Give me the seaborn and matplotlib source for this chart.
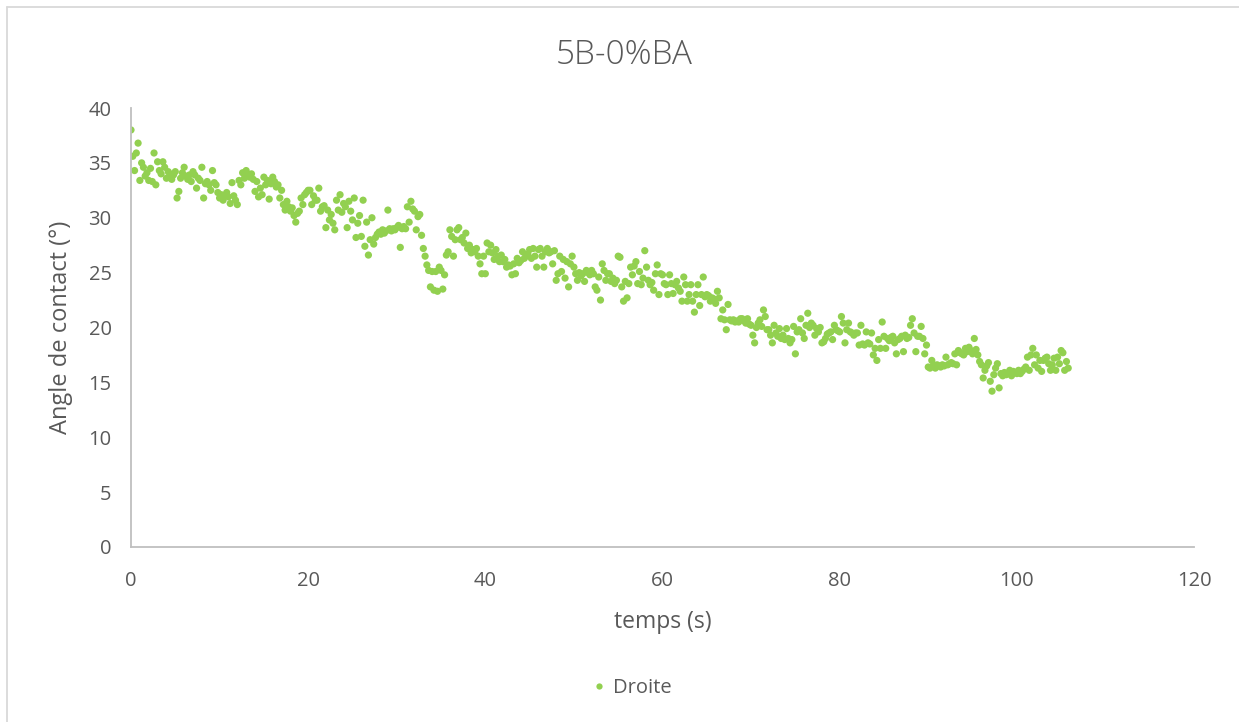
import numpy as np
import pandas as pd
import matplotlib
matplotlib.use("Agg")
import matplotlib.pyplot as plt
from matplotlib.lines import Line2D
import seaborn as sns

# ---- data (5 samples per second, step 0.2 s) ----
title = "5B-0%BA"
series_name = "Droite"
x_label = "temps (s)"
y_label = "Angle de contact (°)"
x_ticks = [0, 20, 40, 60, 80, 100, 120]
y_ticks = [0, 5, 10, 15, 20, 25, 30, 35, 40]
time_step = 0.2

angle_rows = [
    [38.0, 35.6, 34.3, 35.9, 36.8],  # 0 s
    [33.4, 35.0, 34.6, 33.8, 34.1],
    [33.4, 34.5, 33.3, 35.9, 33.0],
    [35.1, 34.3, 34.0, 35.1, 34.6],
    [33.6, 34.2, 34.0, 33.5, 33.9],
    [34.2, 31.8, 32.4, 33.6, 34.1],
    [34.6, 33.8, 33.5, 33.9, 33.3],
    [34.2, 33.9, 32.7, 33.6, 33.4],
    [34.6, 31.8, 33.1, 33.3, 33.0],
    [32.5, 34.3, 33.2, 33.0, 32.3],
    [31.8, 32.1, 31.6, 32.0, 32.3],  # 10 s
    [31.9, 31.3, 33.2, 32.0, 31.6],
    [31.2, 33.4, 33.0, 34.1, 33.6],
    [34.3, 33.9, 33.7, 34.0, 33.5],
    [32.4, 33.3, 31.9, 32.7, 32.1],
    [33.7, 33.0, 33.4, 31.7, 33.1],
    [33.7, 33.3, 32.8, 33.0, 31.8],
    [32.5, 31.2, 30.7, 31.5, 31.0],
    [30.6, 30.9, 30.2, 29.6, 30.4],
    [30.6, 31.8, 31.2, 32.1, 32.3],
    [32.5, 32.5, 31.2, 32.0, 31.6],  # 20 s
    [31.6, 32.7, 30.6, 31.0, 31.1],
    [29.1, 30.7, 29.8, 30.3, 29.5],
    [28.9, 31.6, 30.7, 32.1, 30.5],
    [31.3, 31.0, 29.1, 31.5, 30.6],
    [29.8, 31.8, 28.2, 29.5, 30.2],
    [28.3, 31.6, 27.4, 29.6, 26.6],
    [28.0, 30.0, 27.6, 28.2, 28.5],
    [28.7, 28.5, 28.9, 28.6, 28.8],
    [30.7, 29.0, 28.8, 29.0, 28.9],
    [29.1, 29.3, 27.3, 29.0, 29.2],  # 30 s
    [29.0, 31.0, 29.6, 31.5, 30.8],
    [30.6, 28.9, 30.1, 30.3, 28.4],
    [27.2, 26.5, 25.7, 25.2, 23.7],
    [25.1, 23.4, 25.1, 23.3, 25.5],
    [25.2, 23.5, 24.8, 26.6, 26.9],
    [28.9, 28.3, 26.5, 28.0, 28.9],
    [29.1, 28.0, 28.2, 27.7, 28.6],
    [27.2, 27.5, 26.8, 27.1, 26.9],
    [27.2, 26.5, 25.8, 24.9, 26.5],
    [24.9, 27.7, 26.9, 27.5, 26.8],  # 40 s
    [26.2, 27.1, 26.5, 26.0, 26.6],
    [26.0, 26.2, 25.5, 25.7, 25.6],
    [24.8, 25.8, 24.9, 26.3, 25.9],
    [26.1, 26.9, 26.3, 26.5, 26.7],
    [27.1, 26.3, 27.2, 26.5, 25.5],
    [27.1, 27.2, 26.5, 25.5, 26.9],
    [27.2, 26.8, 26.9, 25.8, 27.0],
    [24.3, 24.9, 26.5, 25.1, 26.2],
    [24.5, 26.0, 23.7, 25.8, 26.5],
    [25.5, 24.9, 24.3, 25.0, 24.7],  # 50 s
    [24.9, 24.2, 25.2, 25.0, 24.8],
    [25.2, 24.9, 23.7, 23.4, 24.6],
    [22.5, 25.8, 25.2, 24.3, 24.9],
    [24.9, 24.2, 24.5, 24.0, 24.3],
    [26.5, 26.4, 23.7, 22.4, 24.2],
    [22.7, 24.0, 25.5, 24.8, 25.6],
    [26.0, 24.0, 25.1, 23.9, 24.5],
    [27.0, 25.5, 24.3, 23.9, 24.1],
    [23.4, 24.9, 25.7, 23.0, 24.9],
    [24.8, 24.0, 23.9, 23.0, 24.8],  # 60 s
    [24.0, 23.1, 23.9, 24.2, 23.6],
    [23.3, 22.4, 24.6, 23.9, 22.4],
    [23.0, 23.9, 22.4, 21.4, 23.0],
    [23.9, 22.0, 23.0, 24.6, 22.8],
    [23.0, 22.9, 22.4, 22.7, 22.6],
    [22.2, 23.3, 22.7, 20.8, 21.6],
    [20.7, 19.8, 22.1, 20.7, 20.6],
    [20.7, 20.5, 20.6, 20.5, 20.8],
    [20.8, 20.6, 20.4, 20.8, 20.3],
    [20.2, 19.3, 18.6, 20.0, 20.4],  # 70 s
    [20.7, 20.1, 21.6, 21.0, 19.8],
    [19.8, 19.3, 18.6, 20.2, 19.5],
    [19.2, 19.9, 19.0, 19.3, 18.9],
    [19.9, 19.0, 18.6, 18.9, 20.1],
    [17.6, 19.6, 19.8, 20.8, 19.5],
    [19.0, 20.2, 21.3, 20.0, 20.4],
    [20.2, 19.3, 19.9, 19.6, 20.0],
    [18.6, 18.7, 19.0, 19.4, 19.5],
    [19.6, 18.9, 20.2, 19.8, 19.7],
    [19.6, 21.0, 20.4, 18.6, 19.8],  # 80 s
    [20.4, 19.6, 19.5, 19.3, 19.5],
    [19.5, 18.4, 20.2, 18.5, 18.4],
    [19.6, 18.6, 18.5, 19.5, 17.5],
    [18.1, 17.0, 18.9, 18.1, 20.5],
    [19.2, 18.1, 19.0, 18.8, 19.1],
    [19.2, 18.6, 17.6, 18.9, 19.0],
    [19.2, 17.8, 19.3, 19.0, 19.1],
    [20.2, 20.8, 19.5, 17.8, 19.2],
    [19.2, 20.1, 19.0, 17.6, 18.4],
    [16.4, 16.3, 17.0, 16.6, 16.3],  # 90 s
    [16.6, 16.5, 16.4, 16.6, 16.5],
    [17.3, 16.6, 16.7, 16.8, 16.7],
    [17.6, 16.6, 17.9, 17.7, 17.6],
    [17.5, 18.1, 17.8, 18.2, 17.9],
    [17.6, 19.0, 18.0, 17.5, 16.9],
    [16.6, 15.4, 16.1, 16.5, 16.8],
    [15.1, 14.2, 15.7, 16.3, 16.7],
    [14.5, 15.8, 15.6, 15.9, 15.7],
    [15.8, 16.1, 15.6, 16.0, 15.9],
    [15.8, 16.1, 15.8, 16.0, 16.2],  # 100 s
    [16.4, 17.3, 16.1, 17.5, 18.1],
    [16.6, 17.5, 16.3, 17.0, 16.0],
    [17.0, 17.2, 17.3, 16.7, 16.1],
    [16.6, 17.2, 16.1, 17.3, 16.7],
    [17.9, 17.7, 16.1, 16.9, 16.3],
]

angles = [v for row in angle_rows for v in row]
times = [round(i * time_step, 2) for i in range(len(angles))]
df = pd.DataFrame({"temps": times, "angle": angles})

# ---- style ----
sns.set_theme(style="white")
plt.rcParams["font.family"] = ["Open Sans", "DejaVu Sans"]
text_color = "#595959"
axis_color = "#bfbfbf"
green = "#92D050"

W, H = 1239, 722
fig = plt.figure(figsize=(W / 100, H / 100), dpi=100)
ax = fig.add_axes([131 / W, (H - 547) / H, (1194 - 131) / W, (547 - 108) / H])

sns.scatterplot(data=df, x="temps", y="angle", ax=ax, color=green,
                s=27, linewidth=0, edgecolor="none", label=series_name,
                legend=False)

ax.set_xlim(0, 120)
ax.set_ylim(0, 40)
ax.set_xticks(x_ticks)
ax.set_yticks(y_ticks)
ax.tick_params(axis="both", length=0, labelsize=14.5, colors=text_color)
ax.tick_params(axis="x", pad=17)
ax.tick_params(axis="y", pad=14)
for side in ["top", "right"]:
    ax.spines[side].set_visible(False)
for side in ["left", "bottom"]:
    ax.spines[side].set_color(axis_color)
    ax.spines[side].set_linewidth(1.3)
ax.grid(False)

ax.set_xlabel(x_label, fontsize=16.5, color=text_color, labelpad=14)
ax.set_ylabel(y_label, fontsize=17, color=text_color, labelpad=11)

fig.text(624 / W, 1 - 55 / H, title, ha="center", va="center",
         fontsize=24, color=text_color, fontweight="light")

handle = Line2D([], [], marker="o", linestyle="none", color=green,
                markersize=4.5, markeredgewidth=0)
fig.legend([handle], [series_name], loc="center", bbox_to_anchor=(630 / W, 1 - 688 / H),
           frameon=False, fontsize=14.5, labelcolor=text_color, handletextpad=0.2,
           handlelength=1.0)

# chart border (light gray, Excel-like)
fig.add_artist(Line2D([7 / W, 7 / W], [0, 1 - 7 / H], color="#d9d9d9", lw=1.3,
                      transform=fig.transFigure))
fig.add_artist(Line2D([7 / W, 1], [1 - 7 / H, 1 - 7 / H], color="#d9d9d9", lw=1.3,
                      transform=fig.transFigure))

fig.savefig("out.png", dpi=100, facecolor="white")
